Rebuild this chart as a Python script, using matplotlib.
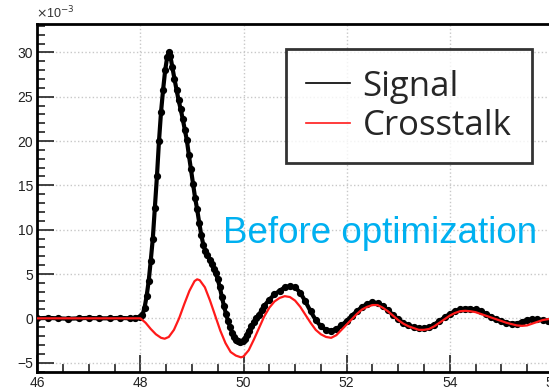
import matplotlib
matplotlib.use("Agg")
import matplotlib.pyplot as plt
from matplotlib.ticker import MultipleLocator

# time axis in ns, amplitude in units of 1e-3
signal_t = [46.0, 46.2, 46.4, 46.6, 46.8, 47.0, 47.2, 47.4, 47.6, 47.8, 47.9,
            48.0, 48.04, 48.08, 48.12, 48.16, 48.20, 48.24, 48.28, 48.32, 48.36,
            48.40, 48.44, 48.48, 48.52, 48.55, 48.58, 48.62, 48.66, 48.70, 48.74,
            48.78, 48.82, 48.86, 48.90, 48.94, 48.98, 49.02, 49.06, 49.10, 49.14,
            49.18, 49.22, 49.26, 49.30, 49.34, 49.38, 49.42, 49.46, 49.50, 49.54,
            49.58, 49.62, 49.66, 49.70, 49.74, 49.78, 49.82, 49.86, 49.90, 49.94,
            49.98, 50.02, 50.06, 50.10, 50.15, 50.20, 50.25, 50.30, 50.35, 50.40,
            50.50, 50.60, 50.70, 50.80, 50.90, 51.00, 51.10, 51.20, 51.30, 51.40,
            51.50, 51.60, 51.70, 51.80, 51.90, 52.00, 52.10, 52.20, 52.30, 52.40,
            52.50, 52.60, 52.70, 52.80, 52.90, 53.00, 53.10, 53.20, 53.30, 53.40,
            53.50, 53.60, 53.70, 53.80, 53.90, 54.00, 54.10, 54.20, 54.30, 54.40,
            54.50, 54.60, 54.70, 54.80, 54.90, 55.00, 55.10, 55.20, 55.30, 55.40,
            55.50, 55.60, 55.70, 55.80, 55.90, 56.00]
signal_v = [0.0, 0.05, 0.0, -0.05, 0.0, 0.05, 0.0, 0.0, 0.05, 0.0, 0.05,
            0.2, 0.4, 1.2, 2.5, 4.2, 6.5, 9.0, 12.5, 16.0, 20.0,
            23.3, 25.8, 28.0, 29.5, 30.0, 29.6, 28.3, 27.0, 25.8, 24.6,
            23.6, 22.5, 21.3, 20.1, 18.4, 16.8, 15.2, 13.6, 12.3, 10.8,
            9.4, 8.3, 7.6, 7.1, 6.6, 6.1, 5.6, 5.1, 4.4, 3.5,
            2.4, 1.4, 0.5, -0.3, -1.0, -1.6, -2.1, -2.4, -2.6, -2.7,
            -2.6, -2.3, -1.9, -1.4, -0.9, -0.4, 0.0, 0.4, 0.9, 1.4,
            2.1, 2.7, 3.1, 3.5, 3.6, 3.5, 2.9, 1.9, 0.8, -0.2,
            -0.9, -1.3, -1.4, -1.2, -0.8, -0.3, 0.3, 0.8, 1.3, 1.6,
            1.8, 1.7, 1.4, 0.9, 0.4, -0.1, -0.5, -0.8, -1.0, -1.1,
            -1.1, -1.0, -0.7, -0.3, 0.1, 0.5, 0.8, 1.0, 1.1, 1.1,
            1.0, 0.8, 0.5, 0.2, -0.1, -0.3, -0.5, -0.6, -0.6, -0.4,
            -0.2, -0.1, -0.1, -0.2, -0.3, -0.2]

xtalk_t = [46.0, 47.9, 48.0, 48.1, 48.2, 48.3, 48.4, 48.47, 48.55, 48.65,
           48.75, 48.85, 48.95, 49.05, 49.10, 49.15, 49.25, 49.35, 49.45, 49.55,
           49.65, 49.75, 49.85, 49.95, 50.00, 50.10, 50.20, 50.30, 50.40, 50.50,
           50.60, 50.70, 50.80, 50.90, 51.00, 51.10, 51.20, 51.30, 51.40, 51.50,
           51.60, 51.70, 51.80, 51.90, 52.00, 52.10, 52.20, 52.30, 52.40, 52.50,
           52.60, 52.70, 52.80, 52.90, 53.00, 53.10, 53.20, 53.30, 53.40, 53.50,
           53.60, 53.70, 53.80, 53.90, 54.00, 54.10, 54.20, 54.30, 54.40, 54.50,
           54.60, 54.70, 54.80, 54.90, 55.00, 55.10, 55.20, 55.30, 55.40, 55.50,
           55.60, 55.70, 55.80, 55.90, 56.00]
xtalk_v = [0.0, 0.0, 0.0, -0.5, -1.2, -1.8, -2.2, -2.3, -2.1, -1.3,
           0.0, 1.6, 3.1, 4.2, 4.4, 4.3, 3.5, 2.0, 0.3, -1.4,
           -2.8, -3.8, -4.2, -4.4, -4.3, -3.6, -2.4, -1.1, 0.2, 1.2,
           1.9, 2.3, 2.5, 2.4, 2.0, 1.3, 0.4, -0.5, -1.3, -1.8,
           -2.1, -2.2, -1.9, -1.3, -0.7, -0.1, 0.5, 1.0, 1.3, 1.5,
           1.5, 1.2, 0.8, 0.3, -0.2, -0.6, -0.9, -1.1, -1.3, -1.3,
           -1.2, -0.9, -0.5, -0.1, 0.3, 0.6, 0.8, 0.85, 0.8, 0.7,
           0.5, 0.3, 0.1, -0.1, -0.3, -0.5, -0.65, -0.8, -0.85, -0.8,
           -0.6, -0.4, -0.2, -0.1, 0.0]

plt.rcParams['font.family'] = ['Liberation Sans', 'DejaVu Sans']

fig = plt.figure(figsize=(5.49, 3.90), dpi=100)
# frame runs slightly past the right edge of the canvas
ax = fig.add_axes([0.068, 0.0474, 0.939, 0.891])

ax.plot(signal_t, signal_v, color='black', lw=3, marker='o', ms=4.2,
        mec='black', mfc='black', label='Signal', zorder=3)
ax.plot(xtalk_t, xtalk_v, color='#ff1a1a', lw=1.6, label='Crosstalk', zorder=4)

ax.set_xlim(46, 56)
ax.set_ylim(-6, 33.2)
ax.xaxis.set_major_locator(MultipleLocator(2))
ax.xaxis.set_minor_locator(MultipleLocator(0.5))
ax.yaxis.set_major_locator(MultipleLocator(5))
ax.yaxis.set_minor_locator(MultipleLocator(1))
ax.tick_params(which='both', direction='in', top=False, right=False,
               labelsize=10, colors='#222222', width=1.2)
ax.tick_params(which='major', length=12, pad=3)
ax.tick_params(which='minor', length=6)
ax.grid(True, which='major', color='#c8c8c8', ls=':', lw=1)
ax.set_axisbelow(True)
for side in ['left', 'bottom', 'top', 'right']:
    ax.spines[side].set_linewidth(2)

fig.text(0.066, 0.945, r'$\times$10$^{-3}$', fontsize=9, color='#333333',
         ha='left', va='bottom')

leg = ax.legend(loc='upper right', bbox_to_anchor=(0.9587, 0.927),
                prop={'family': ['Open Sans', 'DejaVu Sans'], 'size': 25},
                frameon=True, fancybox=False, edgecolor='black',
                handlelength=1.25, handletextpad=0.37, borderpad=0.58,
                labelspacing=0.15, borderaxespad=0)
leg.get_frame().set_linewidth(2)
for h in leg.legend_handles:
    h.set_marker('')
    h.set_linewidth(1.2)
for t in leg.get_texts():
    t.set_color('#262626')

fig.text(0.406, 0.377, 'Before optimization', fontsize=26.5, color='#00b0f0',
         ha='left', va='baseline')

fig.savefig('out.png', dpi=100)
